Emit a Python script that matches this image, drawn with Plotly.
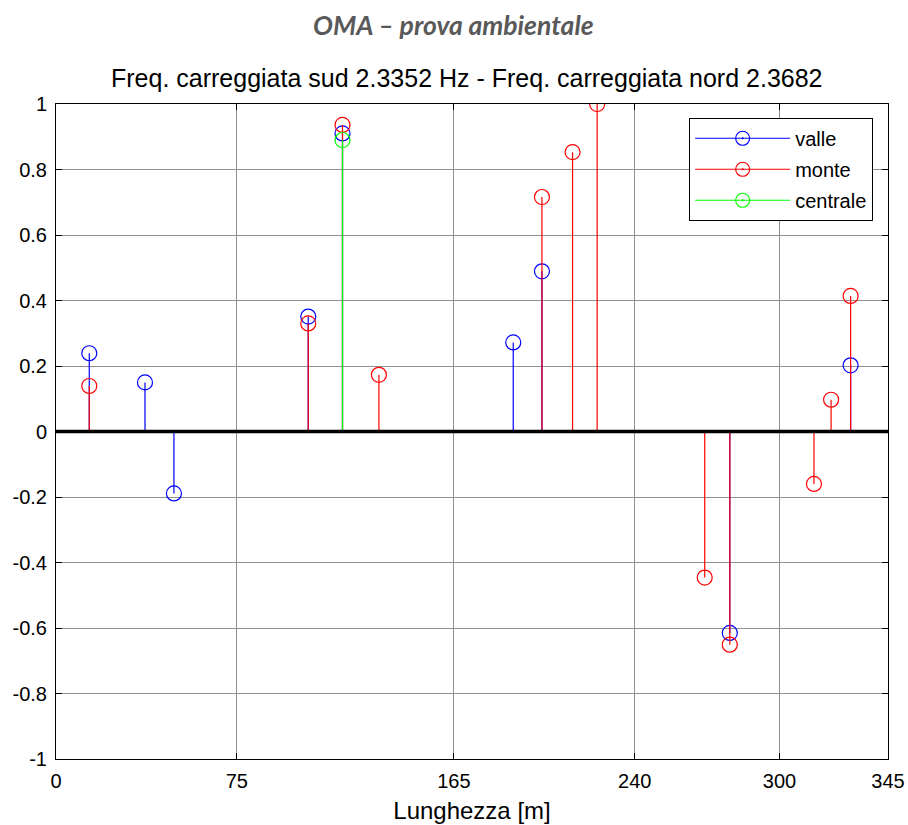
import plotly.graph_objects as go

# Stem data: position along the deck [m] and normalised modal amplitude
valle_x = [13.8, 36.9, 48.9, 104.6, 118.8, 189.6, 201.5, 279.4, 329.5]
valle_y = [0.239, 0.150, -0.189, 0.351, 0.910, 0.272, 0.489, -0.615, 0.202]

monte_x = [13.8, 104.6, 118.8, 133.9, 201.5, 214.2, 224.4, 269.0, 279.4, 314.3, 321.4, 329.5]
monte_y = [0.139, 0.330, 0.936, 0.173, 0.716, 0.853, 1.000, -0.446, -0.651, -0.160, 0.097, 0.414]

centrale_x = [118.8]
centrale_y = [0.890]

x_ticks = [0, 75, 165, 240, 300, 345]
y_ticks = [1, 0.8, 0.6, 0.4, 0.2, 0, -0.2, -0.4, -0.6, -0.8, -1]
y_tick_labels = ["1", "0.8", "0.6", "0.4", "0.2", "0", "-0.2", "-0.4", "-0.6", "-0.8", "-1"]

series = [
    ("valle", valle_x, valle_y, "#0000ff"),
    ("monte", monte_x, monte_y, "#ff0000"),
    ("centrale", centrale_x, centrale_y, "#00ff00"),
]

fig = go.Figure()

for name, xs, ys, color in series:
    # vertical stems from the baseline to each value
    sx, sy = [], []
    for x, y in zip(xs, ys):
        sx += [x, x, None]
        sy += [0, y, None]
    fig.add_trace(go.Scatter(
        x=sx, y=sy, mode="lines", line=dict(color=color, width=1.2),
        showlegend=False, hoverinfo="skip"))
    # open circle heads
    fig.add_trace(go.Scatter(
        x=xs, y=ys, mode="markers",
        marker=dict(symbol="circle-open", size=15, color=color, line=dict(width=1.2)),
        showlegend=False))

# legend entries (stem line with dotted circle)
for name, xs, ys, color in series:
    fig.add_trace(go.Scatter(
        x=[None], y=[None], mode="lines+markers", name=name, legendgroup=name,
        line=dict(color=color, width=1.2),
        marker=dict(symbol="circle-open-dot", size=14, color=color, line=dict(width=1.2))))

font_main = "Liberation Sans, Arial, sans-serif"

fig.update_layout(
    width=908, height=825,
    margin=dict(l=56, r=20, t=104, b=66),
    paper_bgcolor="white", plot_bgcolor="white",
    font=dict(family=font_main, size=20, color="black"),
    showlegend=True,
    legend=dict(
        x=0.761, y=0.979, xanchor="left", yanchor="top",
        bgcolor="white", bordercolor="black", borderwidth=1,
        font=dict(family=font_main, size=20, color="black"),
        itemwidth=95, tracegroupgap=2,
    ),
    xaxis=dict(
        range=[0, 345], tickvals=x_ticks, ticktext=[str(v) for v in x_ticks],
        showgrid=True, gridcolor="#909090", gridwidth=1,
        showline=True, linecolor="black", linewidth=1, mirror="ticks",
        ticks="inside", ticklen=6, tickcolor="black",
        zeroline=False, automargin=False, ticklabelstandoff=4,
        title=dict(text="Lunghezza [m]", font=dict(size=24), standoff=11),
    ),
    yaxis=dict(
        range=[-1, 1], tickvals=y_ticks, ticktext=y_tick_labels,
        showgrid=True, gridcolor="#909090", gridwidth=1,
        showline=True, linecolor="black", linewidth=1, mirror="ticks",
        ticks="inside", ticklen=6, tickcolor="black",
        zeroline=False, automargin=False, ticklabelstandoff=4,
    ),
    shapes=[dict(type="line", xref="paper", yref="y", x0=0, x1=1, y0=0, y1=0,
                 line=dict(color="black", width=3.5), layer="above")],
    annotations=[
        dict(text="Freq. carreggiata sud 2.3352 Hz - Freq. carreggiata nord 2.3682",
             xref="paper", yref="paper", x=0.494, y=1.0, yshift=10,
             xanchor="center", yanchor="bottom", showarrow=False,
             font=dict(family=font_main, size=25, color="black")),
        dict(text="<b><i>OMA – prova ambientale</i></b>",
             xref="paper", yref="paper", x=0.478, y=1.0, yshift=61,
             xanchor="center", yanchor="bottom", showarrow=False,
             font=dict(family="Lato, Open Sans, sans-serif", size=26.5, color="#595959")),
    ],
)

fig.write_html("out.html")
